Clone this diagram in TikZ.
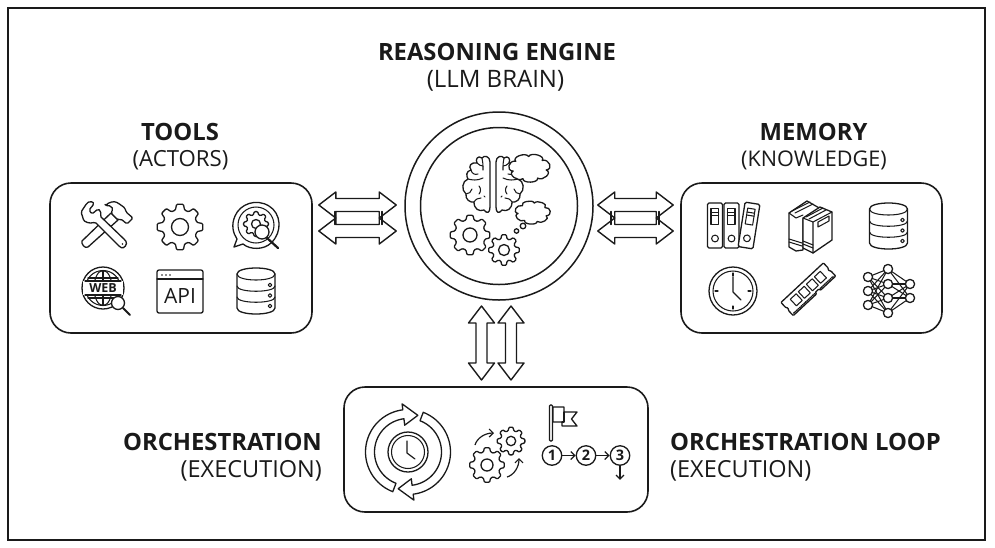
\documentclass[tikz,border=0pt]{standalone}
\usepackage{fontspec}
\setmainfont{Open Sans}
\usetikzlibrary{arrows.meta,calc}
\definecolor{ink}{HTML}{1A1A1A}
\tikzset{
  icon/.style={draw=ink,line width=1.3pt,line join=round,line cap=round,fill=white},
  thinl/.style={draw=ink,line width=1.05pt,line cap=round,line join=round},
  panel/.style={draw=ink,line width=1.6pt,rounded corners=21pt,minimum width=#1,inner sep=0pt},
  ring/.style={circle,draw=ink,line width=1.5pt,inner sep=0pt,minimum size=#1},
  head/.style={font=\fontsize{23.8}{26}\selectfont\bfseries,text=ink,inner sep=0pt},
  sub/.style={font=\fontsize{23.5}{26}\selectfont,text=ink,inner sep=0pt},
  step circle/.style={circle,draw=ink,line width=1.3pt,inner sep=0pt,minimum size=19.5pt,font=\fontsize{14.5}{14}\selectfont\bfseries,text=ink},
  small arrow/.style={draw=ink,line width=1.2pt,-{Straight Barb[length=4pt,width=8pt]}},
}
% gear: x y R r hole teeth
\newcommand{\icGear}[6]{%
  \begin{scope}[shift={(#1,#2)}]
  \pgfmathsetmacro\gst{360/#6}
  \draw[icon,rounded corners=1]
    ({.5*\gst}:#4)
    \foreach \gi in {1,...,#6}{
      -- ({(\gi-.34)*\gst}:#4) -- ({(\gi-.19)*\gst}:#3)
      -- ({(\gi+.19)*\gst}:#3) -- ({(\gi+.34)*\gst}:#4)
    } -- cycle;
  \draw[icon] (0,0) circle (#5);
  \end{scope}}
% cloud: x y rx ry bumps phase
\newcommand{\icCloud}[6]{%
  \begin{scope}[shift={(#1,#2)}]
  \pgfmathsetmacro\cst{360/#5}
  \draw[icon] ({#6}:#3 and #4)
    \foreach \ci in {1,...,#5}{
      .. controls ({#6+(\ci-1)*\cst+.12*\cst}:1.42*#3 and 1.42*#4)
             and ({#6+\ci*\cst-.12*\cst}:1.42*#3 and 1.42*#4)
      .. ({#6+\ci*\cst}:#3 and #4)
    } -- cycle;
  \end{scope}}
% database: x(center) y(top)
\newcommand{\icDB}[2]{%
  \begin{scope}[shift={(#1,#2)}]
  \draw[icon] (-19,6) -- (-19,40) .. controls (-19,48) and (19,48) .. (19,40) -- (19,6) .. controls (19,-2) and (-19,-2) .. (-19,6) -- cycle;
  \draw[thinl] (-19,6) .. controls (-19,14) and (19,14) .. (19,6);
  \draw[thinl] (-19,18) .. controls (-19,25) and (19,25) .. (19,18);
  \draw[thinl] (-19,29) .. controls (-19,36) and (19,36) .. (19,29);
  \draw[thinl] (14,17) circle (1.8) (14,27.5) circle (1.8) (14,38) circle (1.8);
  \end{scope}}
% horizontal pair element
\newcommand{\hArrow}[2]{%
  \draw[icon,line width=1.4pt] let \p1=(#1),\p2=(#2) in
    (\x1,\y1) -- (\x1+17pt,\y1-13pt) -- (\x1+17pt,\y1-6.5pt) -- (\x2-17pt,\y1-6.5pt) -- (\x2-17pt,\y1-13pt)
    -- (\x2,\y1) -- (\x2-17pt,\y1+13pt) -- (\x2-17pt,\y1+6.5pt) -- (\x1+17pt,\y1+6.5pt) -- (\x1+17pt,\y1+13pt) -- cycle;}
\newcommand{\vArrow}[2]{%
  \draw[icon,line width=1.4pt] let \p1=(#1),\p2=(#2) in
    (\x1,\y1) -- (\x1+13pt,\y1-17pt) -- (\x1+5.5pt,\y1-17pt) -- (\x1+5.5pt,\y2+17pt) -- (\x1+13pt,\y2+17pt)
    -- (\x1,\y2) -- (\x1-13pt,\y2+17pt) -- (\x1-5.5pt,\y2+17pt) -- (\x1-5.5pt,\y1-17pt) -- (\x1-13pt,\y1-17pt) -- cycle;}
\begin{document}
\begin{tikzpicture}[x=1pt,y=-1pt]
\useasboundingbox (0,0) rectangle (995,547);
\fill[white] (0,0) rectangle (995,547);
\draw[ink,line width=1.5pt] (8,8) rectangle (985,540);

% texts
\node[head] (t1) at (497,52) {REASONING ENGINE};
\node[sub,font=\fontsize{24}{26}\selectfont] (t2) at (495.5,80.5) {(LLM BRAIN)};
\node[head] (t3) at (180,132) {TOOLS};
\node[sub,font=\fontsize{22.2}{26}\selectfont] (t4) at (180.5,160) {(ACTORS)};
\node[head] (t5) at (813.5,132) {MEMORY};
\node[sub,font=\fontsize{21.6}{26}\selectfont] (t6) at (814,160) {(KNOWLEDGE)};
\node[head,anchor=east] (t7) at (322,442) {ORCHESTRATION};
\node[sub,anchor=east] (t8) at (322,470.5) {(EXECUTION)};
\node[head,anchor=west] (t9) at (670,442) {ORCHESTRATION LOOP};
\node[sub,anchor=west] (t10) at (670,470.5) {(EXECUTION)};

% main shapes
\node[panel=262pt,minimum height=150pt] (tools) at (181,258) {};
\node[panel=261pt,minimum height=150pt] (memory) at (811.5,258) {};
\node[panel=304pt,minimum height=125pt] (orch) at (496,449.5) {};
\node[ring=188pt] (engine) at (499,206) {};
\node[ring=157pt] (core) at (499,206) {};

% connectors
\coordinate (la1) at ($(tools.east)+(6,-53)$);
\coordinate (la2) at ($(engine.west)+(-8,-1)$);
\coordinate (lb1) at ($(tools.east)+(6,-27)$);
\coordinate (lb2) at ($(engine.west)+(-8,25)$);
\coordinate (ra1) at ($(engine.east)+(4,-1)$);
\coordinate (ra2) at ($(memory.west)+(-7,-53)$);
\coordinate (rb1) at ($(engine.east)+(4,25)$);
\coordinate (rb2) at ($(memory.west)+(-7,-27)$);
\coordinate (va1) at (481.5,306);
\coordinate (va2) at (481.5,380);
\coordinate (vb1) at (511,306);
\coordinate (vb2) at (511,380);
\hArrow{la1}{la2}
\hArrow{lb1}{lb2}
\draw[icon,line width=1.4pt,fill=none] (335,211.5) -- (335,224.5) (382,211.5) -- (382,224.5);
\hArrow{ra1}{ra2}
\hArrow{rb1}{rb2}
\draw[icon,line width=1.4pt,fill=none] (611,211.5) -- (611,224.5) (659,211.5) -- (659,224.5);
\vArrow{va1}{va2}
\vArrow{vb1}{vb2}

% --- brain
\foreach \s in {1,-1}{
\begin{scope}[shift={(493,0)},xscale=\s]
  \draw[icon] (-3,162) .. controls (-3,156) and (-9,155) .. (-11,158)
     .. controls (-15,155) and (-18,159) .. (-16,163)
     .. controls (-22,162) and (-25,166) .. (-22,170)
     .. controls (-27,171) and (-27,176) .. (-25,179)
     .. controls (-31,181) and (-32,190) .. (-27,194)
     .. controls (-28,199) and (-23,203) .. (-19,202)
     .. controls (-19,209) and (-14,212) .. (-9,210)
     .. controls (-6,214) and (-3,213) .. (-3,207) -- cycle;
  \draw[thinl] (-11,158) .. controls (-10,162) and (-10,165) .. (-10,170);
  \draw[thinl] (-16,163) .. controls (-14,165) and (-12,166) .. (-10,166);
  \draw[thinl] (-22,170) .. controls (-21,174) and (-18,175) .. (-15,174);
  \draw[thinl] (-25,179) .. controls (-21,180) and (-16,181) .. (-10,178);
  \draw[thinl] (-27,194) .. controls (-24,194) and (-22,192) .. (-21,189);
  \draw[thinl] (-19,202) .. controls (-17,199) and (-15,198) .. (-12,198);
  \draw[thinl] (-14,186) .. controls (-12,188) and (-12,192) .. (-14,194);
  \draw[thinl] (-9,196) -- (-8,197);
\end{scope}}
\icCloud{529.5}{168}{17}{11.5}{7}{10}
\icCloud{532.5}{212.5}{14.5}{9.5}{7}{20}
\draw[icon] (523,226) circle (2.8) (516.5,231) circle (2.2);
\icGear{470}{235}{20}{15.5}{7}{8}
\icGear{504}{250}{15.5}{11.5}{5.5}{8}

% --- tools: hammer
\draw[icon] (82,241) .. controls (81,244) and (85,249) .. (88,247) -- (118,220) -- (111,213) -- cycle;
\draw[icon,rounded corners=1.5] (105,206) .. controls (109,202) and (114,201) .. (118,203)
   -- (125,208) -- (126,212) -- (133,218) -- (127,224) -- (121,219) -- (118,220) -- (111,213) -- (113,209) .. controls (111,206) and (108,205) .. cycle;
% wrench
\draw[icon,rounded corners=1.5] (81,212) -- (87,203) .. controls (90,201) and (93,202) .. (94,204) -- (89,210) -- (92,214) -- (98,209) .. controls (101,211) and (101,214) .. (100,216)
   -- (125,240) .. controls (128,244) and (124,249) .. (120,247) -- (95,222) .. controls (90,224) and (84,222) .. (83,218) -- cycle;
\fill[ink] (122.5,244) circle (0.8);
% gear
\icGear{180}{227}{23}{17.5}{8.5}{8}
% chat search
\draw[icon] (243,244) .. controls (250,250) and (264,250) .. (271,243) .. controls (283,232) and (281,213) .. (269,206) .. controls (256,198) and (240,204) .. (235,216) .. controls (231,225) and (233,233) .. (237,239) -- (234,247) -- cycle;
\draw[thinl] (256,225) circle (18);
\icGear{256}{224}{12.5}{9.5}{4.5}{8}
\draw[icon,line width=2.2pt] (267,238) -- (278,248);
\draw[icon] (262,232) circle (7);
% web
\begin{scope}[shift={(103,288)}]
  \draw[icon] (0,0) circle (21);
  \draw[thinl] (0,0) circle (17.5);
  \draw[thinl] (0,0) ellipse (9 and 17.5);
  \draw[thinl] (0,-17.5) -- (0,17.5);
  \draw[thinl] (-15,-10) -- (15,-10) (-15,10) -- (15,10);
  \fill[white] (-20,-7) rectangle (20,7);
  \draw[thinl] (-18,-7) -- (18,-7) (-18,7) -- (18,7);
  \node[inner sep=0pt,font=\fontsize{12.5}{12}\selectfont\bfseries,text=ink] (webtxt) at (0,0) {WEB};
  \draw[icon,line width=2pt] (20,20) -- (27,27);
  \draw[icon] (15,15) circle (6.5);
\end{scope}
% api
\draw[icon,rounded corners=2] (157,270) rectangle (203,313);
\draw[thinl] (157,279) -- (203,279);
\fill[ink] (162,275) circle (.9) (166,275) circle (.9) (170,275) circle (.9);
\node[inner sep=0pt,font=\fontsize{21}{21}\selectfont,text=ink] (apitxt) at (180,296) {API};
% database
\icDB{256}{268}

% --- memory: binders
\foreach \bx/\ba in {715/0,731.5/0,749/-9}{
\begin{scope}[shift={(\bx,225.5)},rotate=\ba]
  \draw[icon,rounded corners=1.5] (-7.5,-22.5) rectangle (7.5,22.5);
  \draw[thinl] (-4,-17) rectangle (3.5,-1);
  \draw[thinl] (-4,-13) -- (3.5,-13) (-4,-10) -- (3.5,-10);
  \draw[thinl] (0,13) circle (3.4);
\end{scope}}
% books
\draw[icon] (789,213) -- (807,201) -- (821,209) -- (803,219) -- (803,250) -- (796,251) -- (789,247) -- cycle;
\draw[thinl] (789,213) -- (796,218) -- (803,215);
\draw[thinl] (792,211) -- (810,202) (795,213) -- (813,204);
\draw[thinl] (789,239) -- (802,243) (789,242) -- (802,246);
\draw[icon] (803,218) -- (820,207) -- (832,212) -- (832,240) -- (813,253) -- (803,248) -- cycle;
\draw[thinl] (803,218) -- (813,222) -- (832,212) (813,222) -- (813,253);
\draw[thinl] (806,217) -- (823,208) (809,219) -- (826,210);
\draw[thinl] (803,241) -- (813,245) (803,244) -- (813,248);
\draw[thinl] (818,222) -- (829,216) -- (829,221) -- (818,227) -- cycle;
% db
\icDB{888.5}{203}
% clock
\begin{scope}[shift={(733,291)}]
  \draw[icon] (0,0) circle (24);
  \draw[thinl] (0,0) circle (20);
  \draw[thinl] (0,-18) -- (0,-15) (0,18) -- (0,15) (-18,0) -- (-15,0) (18,0) -- (15,0);
  \draw[thinl,line width=1.2pt] (0,-14) -- (0,1) -- (8,9);
\end{scope}
% ram
\begin{scope}[shift={(809,290)},rotate=43]
  \draw[icon,rounded corners=.8] (-29,-10) -- (29,-10) -- (29,-3) -- (27.5,-1) -- (29,1) -- (29,8) -- (8,8) -- (8,6) -- (3,6) -- (3,8) -- (-29,8) -- (-29,1) -- (-27.5,-1) -- (-29,-3) -- cycle;
  \foreach \cx in {-20,-9,2,13}{\draw[thinl] (\cx,-6) rectangle ++(8,9);}
  \draw[thinl,line width=1.4pt,dash pattern=on 1pt off 1pt] (-27,6.5) -- (2,6.5) (9,6.5) -- (27,6.5);
\end{scope}
% neural net
\foreach \a/\ax/\ay in {a/868/277,b/868/291,c/868/305}{\coordinate (n\a) at (\ax,\ay);}
\foreach \a/\ax/\ay in {d/888/269,e/888/284,f/888/298,g/888/313}{\coordinate (n\a) at (\ax,\ay);}
\foreach \a/\ax/\ay in {h/910/284,i/910/298}{\coordinate (n\a) at (\ax,\ay);}
\foreach \p in {a,b,c}{\foreach \q in {d,e,f,g}{\draw[thinl] (n\p) -- (n\q);}}
\foreach \p in {d,e,f,g}{\foreach \q in {h,i}{\draw[thinl] (n\p) -- (n\q);}}
\foreach \p in {a,b,c,d,e,f,g,h,i}{\draw[icon] (n\p) circle (4.6);}

% --- orchestration: loop
\begin{scope}[shift={(408,452)}]
\foreach \r in {0,180}{
\draw[icon] plot[domain=111+\r:263+\r,samples=40] (\x:42.5) -- ({263+\r}:48.5) -- ({285+\r}:38) -- ({263+\r}:27) -- ({263+\r}:33.5) -- plot[domain=263+\r:111+\r,samples=40] (\x:33.5) -- cycle;
}
\draw[icon] (0,0) circle (20);
\draw[thinl] (0,0) circle (16.5);
\draw[thinl,line width=1.2pt] (-1,-11) -- (-1,1) -- (7,7);
\end{scope}
\icGear{487}{465}{17.5}{13.5}{6}{8}
\icGear{511}{441}{14}{10.5}{4.7}{8}
\draw[small arrow] (475,445) .. controls (477,438) and (485,433) .. (494,433);
\draw[small arrow] (507,477) .. controls (514,475) and (519,467) .. (519,458);
% flag
\draw[icon,rounded corners=1] (549.5,405) rectangle (552.5,441);
\draw[icon] (553,407) -- (564,407) -- (564,412) -- (577,412) -- (571.5,419) -- (577,426) -- (562,426) -- (562,422) -- (553,422) -- cycle;
\draw[thinl] (564,412) -- (564,422) -- (562,422);
% steps
\node[step circle] (s1) at (552,455.5) {1};
\node[step circle] (s2) at (586,455.5) {2};
\node[step circle] (s3) at (620,455.5) {3};
\coordinate (s4) at ($(s3.south)+(0,14)$);
\draw[small arrow] (s1) -- (s2);
\draw[small arrow] (s2) -- (s3);
\draw[small arrow] (s3) -- (s4);
\end{tikzpicture}
\end{document}
